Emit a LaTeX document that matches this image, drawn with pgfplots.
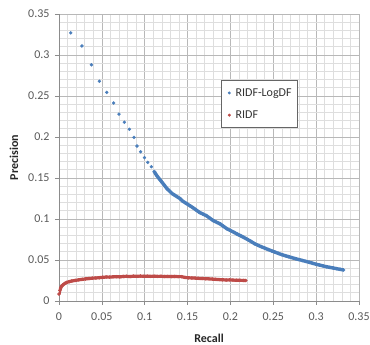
\documentclass[border=0pt]{standalone}
\usepackage{fontspec}
\setmainfont{Carlito}
\usepackage{pgfplots}
\pgfplotsset{compat=1.18}
\definecolor{xlblue}{HTML}{4A7EBB}
\definecolor{xlred}{HTML}{BE4B48}
\definecolor{txtgray}{HTML}{595959}
\begin{document}
\begin{tikzpicture}
\path[use as bounding box] (-59pt,-44pt) rectangle (311pt,301pt);
\begin{axis}[
  scale only axis, width=300pt, height=287pt,
  xmin=0, xmax=0.35, ymin=0, ymax=0.35,
  xtick={0,0.05,0.1,0.15,0.2,0.25,0.3,0.35},
  ytick={0,0.05,0.1,0.15,0.2,0.25,0.3,0.35},
  xticklabels={0,0.05,0.1,0.15,0.2,0.25,0.3,0.35},
  yticklabels={0,0.05,0.1,0.15,0.2,0.25,0.3,0.35},
  minor tick num=4,
  grid=both,
  major grid style={draw=black!28, line width=0.6pt},
  minor grid style={draw=black!13, line width=0.6pt},
  axis lines*=left,
  axis line style={draw=black!45, line width=0.7pt},
  tick align=outside,
  major tick length=4pt, minor tick length=0pt,
  tick style={draw=black!45, line width=0.7pt},
  ticklabel style={font=\fontsize{12}{14}\selectfont, text=txtgray},
  xticklabel style={yshift=-4pt},
  yticklabel style={xshift=-2pt},
  xlabel={\textbf{Recall}}, ylabel={\textbf{Precision}},
  label style={font=\fontsize{12}{14}\selectfont, text=black!85},
  xlabel style={at={(axis description cs:0.5,-0.129)}, anchor=center},
  ylabel style={at={(axis description cs:-0.15,0.5)}, anchor=center},
  legend style={at={(rel axis cs:0.539,0.770)}, anchor=north west,
    draw=black!60, line width=0.7pt, fill=white, font=\fontsize{12}{14}\selectfont, text=black!80,
    row sep=9pt, inner xsep=4pt, inner ysep=6pt},
  legend cell align=left,
  legend image code/.code={\path[draw=none,fill=none] (0cm,-1pt) rectangle (0.3cm,1pt); \path[#1, mark size=1.1pt] plot coordinates {(0.15cm,0cm)};},
]
% dense underlay lines
\addplot[xlblue, line width=3.4pt, forget plot] coordinates {
(0.111,0.158) (0.114,0.153) (0.117,0.149) (0.120,0.145) (0.123,0.141) (0.126,0.137)
(0.129,0.134) (0.132,0.131) (0.135,0.129) (0.138,0.127) (0.141,0.125) (0.144,0.122)
(0.147,0.120) (0.150,0.118) (0.153,0.116) (0.156,0.114) (0.160,0.111) (0.164,0.108)
(0.168,0.106) (0.172,0.104) (0.176,0.101) (0.180,0.098) (0.184,0.096) (0.188,0.094)
(0.192,0.091) (0.196,0.088) (0.200,0.086) (0.204,0.0838) (0.208,0.0815) (0.212,0.0795)
(0.216,0.0773) (0.220,0.0750) (0.224,0.0726) (0.228,0.0700) (0.232,0.0680) (0.236,0.0662)
(0.240,0.0645) (0.244,0.0628) (0.248,0.0612) (0.252,0.0596) (0.256,0.0580) (0.260,0.0565)
(0.264,0.0552) (0.268,0.0540) (0.272,0.0528) (0.276,0.0516) (0.280,0.0505) (0.284,0.0494)
(0.288,0.0483) (0.292,0.0472) (0.296,0.0460) (0.300,0.0448) (0.304,0.0438) (0.308,0.0428)
(0.312,0.0418) (0.316,0.0410) (0.320,0.0402) (0.324,0.0394) (0.328,0.0386) (0.332,0.0378)
};
\addplot[xlred, line width=3.2pt, forget plot] coordinates {
(0,0.0085) (0.001,0.0130) (0.002,0.0160) (0.003,0.0180) (0.005,0.0200) (0.007,0.0215)
(0.009,0.0226) (0.012,0.0236) (0.015,0.0244) (0.019,0.0251) (0.023,0.0258) (0.027,0.0264)
(0.031,0.0269) (0.035,0.0274) (0.039,0.0278) (0.043,0.0281) (0.047,0.0284) (0.051,0.0289)
(0.055,0.0292) (0.059,0.0291) (0.063,0.0295) (0.067,0.0297) (0.071,0.0294) (0.075,0.0299)
(0.079,0.0301) (0.083,0.0298) (0.087,0.0303) (0.091,0.0300) (0.095,0.0304) (0.099,0.0301)
(0.103,0.0303) (0.107,0.0300) (0.111,0.0302) (0.115,0.0300) (0.119,0.0301) (0.123,0.0299)
(0.127,0.0300) (0.131,0.0298) (0.135,0.0299) (0.139,0.0297) (0.143,0.0297) (0.147,0.0287)
(0.151,0.0283) (0.155,0.0281) (0.159,0.0279) (0.163,0.0276) (0.167,0.0274) (0.171,0.0272)
(0.175,0.0270) (0.179,0.0267) (0.183,0.0264) (0.187,0.0261) (0.191,0.0259) (0.195,0.0256)
(0.199,0.0258) (0.203,0.0255) (0.207,0.0253) (0.211,0.0252) (0.215,0.0251) (0.218,0.0250)
};
% marks
\addplot[only marks, mark=*, mark size=1.5pt, xlblue] coordinates {
(0.0137,0.327) (0.0268,0.311) (0.0378,0.288) (0.0471,0.268) (0.0557,0.2545) (0.0638,0.2415)
(0.0700,0.228) (0.0763,0.218) (0.0821,0.2094) (0.0875,0.1996) (0.0910,0.189) (0.0953,0.182)
(0.0997,0.1748) (0.1035,0.169) (0.1078,0.1638) (0.1110,0.158)
(0.114,0.153) (0.117,0.149) (0.120,0.145) (0.123,0.141) (0.126,0.137)
(0.129,0.134) (0.132,0.131) (0.135,0.129) (0.138,0.127) (0.141,0.125) (0.144,0.122)
(0.147,0.120) (0.150,0.118) (0.153,0.116) (0.156,0.114) (0.160,0.111) (0.164,0.108)
(0.168,0.106) (0.172,0.104) (0.176,0.101) (0.180,0.098) (0.184,0.096) (0.188,0.094)
(0.192,0.091) (0.196,0.088) (0.200,0.086) (0.204,0.0838) (0.208,0.0815) (0.212,0.0795)
(0.216,0.0773) (0.220,0.0750) (0.224,0.0726) (0.228,0.0700) (0.232,0.0680) (0.236,0.0662)
(0.240,0.0645) (0.244,0.0628) (0.248,0.0612) (0.252,0.0596) (0.256,0.0580) (0.260,0.0565)
(0.264,0.0552) (0.268,0.0540) (0.272,0.0528) (0.276,0.0516) (0.280,0.0505) (0.284,0.0494)
(0.288,0.0483) (0.292,0.0472) (0.296,0.0460) (0.300,0.0448) (0.304,0.0438) (0.308,0.0428)
(0.312,0.0418) (0.316,0.0410) (0.320,0.0402) (0.324,0.0394) (0.328,0.0386) (0.332,0.0378)
};
\addlegendentry{RIDF-LogDF}
\addplot[only marks, mark=*, mark size=1.5pt, xlred] coordinates {
(0,0.0085) (0.001,0.0130) (0.002,0.0160) (0.003,0.0180) (0.005,0.0200) (0.007,0.0215)
(0.009,0.0226) (0.012,0.0236) (0.015,0.0244) (0.019,0.0251) (0.023,0.0258) (0.027,0.0264)
(0.031,0.0269) (0.035,0.0274) (0.039,0.0278) (0.043,0.0281) (0.047,0.0284) (0.051,0.0289)
(0.055,0.0292) (0.059,0.0291) (0.063,0.0295) (0.067,0.0297) (0.071,0.0294) (0.075,0.0299)
(0.079,0.0301) (0.083,0.0298) (0.087,0.0303) (0.091,0.0300) (0.095,0.0304) (0.099,0.0301)
(0.103,0.0303) (0.107,0.0300) (0.111,0.0302) (0.115,0.0300) (0.119,0.0301) (0.123,0.0299)
(0.127,0.0300) (0.131,0.0298) (0.135,0.0299) (0.139,0.0297) (0.143,0.0297) (0.147,0.0287)
(0.151,0.0283) (0.155,0.0281) (0.159,0.0279) (0.163,0.0276) (0.167,0.0274) (0.171,0.0272)
(0.175,0.0270) (0.179,0.0267) (0.183,0.0264) (0.187,0.0261) (0.191,0.0259) (0.195,0.0256)
(0.199,0.0258) (0.203,0.0255) (0.207,0.0253) (0.211,0.0252) (0.215,0.0251) (0.218,0.0250)
};
\addlegendentry{RIDF}
\end{axis}
\end{tikzpicture}
\end{document}
